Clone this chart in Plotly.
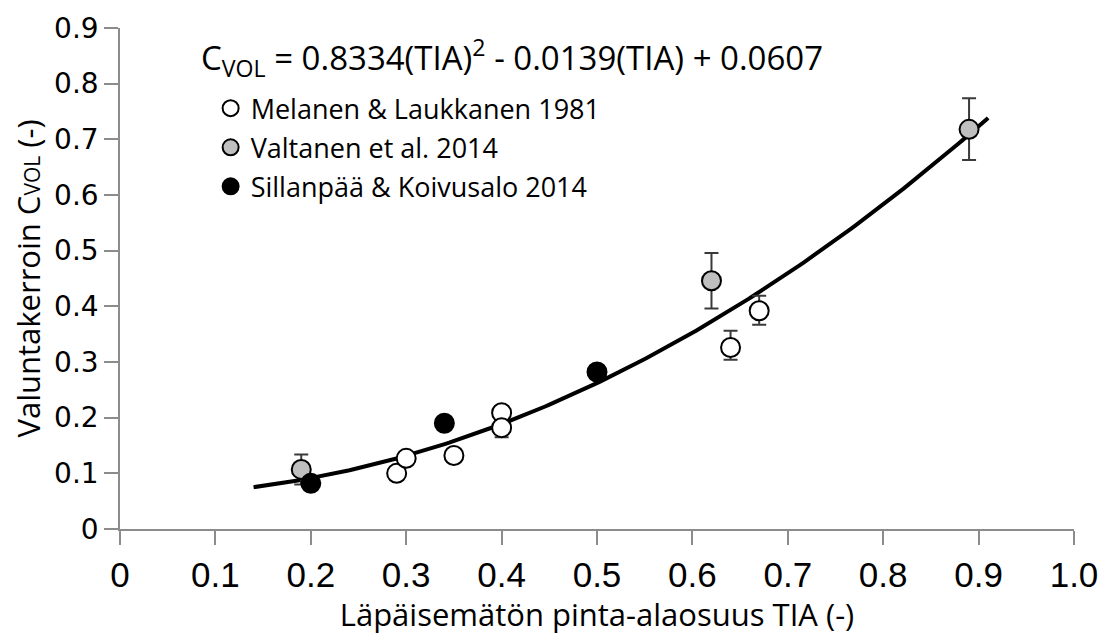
import numpy as np
import plotly.graph_objects as go

# Measured points: impervious area fraction (TIA) vs runoff coefficient
mel_x = [0.29, 0.30, 0.35, 0.40, 0.40, 0.64, 0.67]
mel_y = [0.100, 0.127, 0.132, 0.209, 0.182, 0.326, 0.392]
mel_err_plus = [0, 0, 0, 0, 0, 0.030, 0.027]
mel_err_minus = [0, 0, 0, 0, 0.017, 0.022, 0.025]

val_x = [0.19, 0.62, 0.89]
val_y = [0.107, 0.446, 0.718]
val_err_plus = [0.027, 0.050, 0.056]
val_err_minus = [0.027, 0.050, 0.055]

sil_x = [0.20, 0.34, 0.50]
sil_y = [0.082, 0.190, 0.282]

# Fitted quadratic C_VOL = a*TIA^2 + b*TIA + c
coef_a, coef_b, coef_c = 0.8334, -0.0139, 0.0607
fit_start, fit_end = 0.14, 0.91

x_ticks = [0, 0.1, 0.2, 0.3, 0.4, 0.5, 0.6, 0.7, 0.8, 0.9, 1.0]
x_tick_text = ["0", "0.1", "0.2", "0.3", "0.4", "0.5", "0.6", "0.7", "0.8", "0.9", "1.0"]
y_ticks = [0, 0.1, 0.2, 0.3, 0.4, 0.5, 0.6, 0.7, 0.8, 0.9]
y_tick_text = ["0", "0.1", "0.2", "0.3", "0.4", "0.5", "0.6", "0.7", "0.8", "0.9"]

TEXT_FONT = "'Open Sans', Lato, sans-serif"
ERR_COLOR = "#3a3a3a"

fit_x = np.linspace(fit_start, fit_end, 200)
fit_y = coef_a * fit_x**2 + coef_b * fit_x + coef_c

fig = go.Figure()

fig.add_trace(go.Scatter(
    x=fit_x, y=fit_y, mode="lines",
    line=dict(color="black", width=4),
    showlegend=False, hoverinfo="skip",
))

fig.add_trace(go.Scatter(
    x=mel_x, y=mel_y, mode="markers", name="Melanen & Laukkanen 1981",
    legendgroup="g1",
    marker=dict(size=19, color="white", line=dict(color="black", width=2)),
    error_y=dict(type="data", symmetric=False, array=mel_err_plus,
                 arrayminus=mel_err_minus, color=ERR_COLOR, thickness=2, width=7),
))

fig.add_trace(go.Scatter(
    x=val_x, y=val_y, mode="markers", name="Valtanen et al. 2014",
    legendgroup="g2",
    marker=dict(size=19, color="#bfbfbf", line=dict(color="black", width=2)),
    error_y=dict(type="data", symmetric=False, array=val_err_plus,
                 arrayminus=val_err_minus, color=ERR_COLOR, thickness=2, width=7),
))

fig.add_trace(go.Scatter(
    x=sil_x, y=sil_y, mode="markers", name="Sillanpää & Koivusalo 2014",
    legendgroup="g3",
    marker=dict(size=19, color="black", line=dict(color="black", width=2)),
))

fig.add_annotation(
    xref="paper", yref="paper", x=0.083, y=0.942,
    xanchor="left", yanchor="middle", showarrow=False,
    text="C<sub>VOL</sub> = 0.8334(TIA)<sup>2</sup> - 0.0139(TIA) + 0.0607",
    font=dict(family=TEXT_FONT, size=33, color="black"),
)

axis_color = "#8c8c8c"

fig.update_layout(
    width=1110, height=635,
    margin=dict(l=120, r=33, t=24, b=106),
    paper_bgcolor="white", plot_bgcolor="white",
    showlegend=True,
    legend=dict(
        x=0.095, y=0.888, xanchor="left", yanchor="top",
        font=dict(family=TEXT_FONT, size=27, color="black"),
        traceorder="grouped", tracegroupgap=1,
        itemsizing="trace",
        bgcolor="rgba(0,0,0,0)",
    ),
    xaxis=dict(
        range=[0, 1.0], tickvals=x_ticks, ticktext=x_tick_text,
        showgrid=False, zeroline=False,
        showline=True, linecolor=axis_color, linewidth=1.5,
        ticks="outside", ticklen=14, tickwidth=1.5, tickcolor=axis_color,
        tickfont=dict(family="'Liberation Sans Narrow', 'Arial Narrow', sans-serif", size=35, color="black"),
        title=dict(text="Läpäisemätön pinta-alaosuus TIA (-)",
                   font=dict(family=TEXT_FONT, size=31, color="black"), standoff=2),
    ),
    yaxis=dict(
        range=[0, 0.9], tickvals=y_ticks, ticktext=y_tick_text,
        showgrid=False, zeroline=False,
        showline=True, linecolor=axis_color, linewidth=1.5,
        ticks="outside", ticklen=14, tickwidth=1.5, tickcolor=axis_color,
        tickfont=dict(family="'DejaVu Sans', sans-serif", size=28, color="black"),
        title=dict(text="Valuntakerroin C<span style='font-size:21px'>VOL</span> (-)",
                   font=dict(family=TEXT_FONT, size=31, color="black"), standoff=4),
    ),
)

fig.write_html("out.html")
